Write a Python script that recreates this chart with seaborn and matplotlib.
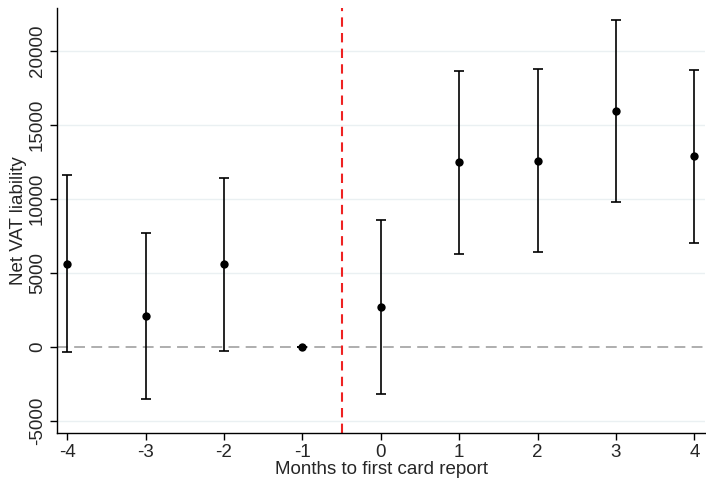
import matplotlib
matplotlib.use("Agg")
import matplotlib.pyplot as plt
import seaborn as sns
import pandas as pd

months = [-4, -3, -2, -1, 0, 1, 2, 3, 4]
coef = [5630, 2070, 5590, 0, 2720, 12480, 12590, 15970, 12880]
ci_low = [-360, -3510, -230, 0, -3150, 6280, 6440, 9820, 7050]
ci_high = [11620, 7680, 11420, 0, 8580, 18670, 18760, 22120, 18720]
y_ticks = [-5000, 0, 5000, 10000, 15000, 20000]

df = pd.DataFrame({"month": months, "coef": coef, "lo": ci_low, "hi": ci_high})

sns.set_theme(style="white")
plt.rcParams["font.family"] = ["Liberation Sans", "DejaVu Sans"]

fig = plt.figure(figsize=(7.06, 4.8), dpi=100)
ax = fig.add_axes([57/706, 1-433/480, 1-57/706-0.001, (433-8)/480])

for t in y_ticks:
    if t != 0:
        ax.axhline(t, color="#eaf0f2", lw=1.0, zorder=0)
ax.axhline(0, color="#a8a8a8", lw=1.3, ls=(0, (6, 3.5)), zorder=1)
ax.axvline(-0.5, color="#ee2222", lw=1.5, ls=(0, (4.5, 3)), zorder=1)

ax.errorbar(df["month"], df["coef"],
            yerr=[df["coef"] - df["lo"], df["hi"] - df["coef"]],
            fmt="none", ecolor="black", elinewidth=1.2, capsize=3.5,
            capthick=1.2, zorder=2)
sns.scatterplot(data=df, x="month", y="coef", color="black", s=36,
                edgecolor="black", linewidth=0, ax=ax, zorder=3)

ax.set_xlim(-4.13, 4.14)
ax.set_ylim(-5800, 22900)
ax.set_xticks(months)
ax.set_xticklabels([str(m) for m in months], fontsize=13.5)
ax.set_yticks(y_ticks)
ax.set_yticklabels([str(t) for t in y_ticks], fontsize=13.5,
                   rotation=90, va="center")
ax.set_xlabel("Months to first card report", fontsize=13.5, labelpad=0)
ax.set_ylabel("Net VAT liability", fontsize=13.5, labelpad=1)

for s in ["top", "right"]:
    ax.spines[s].set_visible(False)
for s in ["left", "bottom"]:
    ax.spines[s].set_color("black")
    ax.spines[s].set_linewidth(1.0)
ax.tick_params(axis="both", which="major", direction="out", length=5,
               width=1.0, color="black", left=True, bottom=True, pad=3)

fig.savefig("out.png", dpi=100)
